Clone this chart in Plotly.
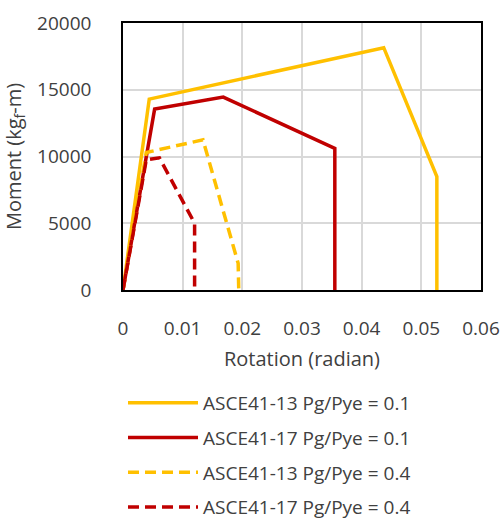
import plotly.graph_objects as go

# Data
names = ["ASCE41-13 Pg/Pye = 0.1", "ASCE41-17 Pg/Pye = 0.1",
         "ASCE41-13 Pg/Pye = 0.4", "ASCE41-17 Pg/Pye = 0.4"]
x_13_01 = [0, 0.0044, 0.0437, 0.0526, 0.0526]
y_13_01 = [0, 14300, 18150, 8500, 0]
x_17_01 = [0, 0.0053, 0.0168, 0.0355, 0.0355]
y_17_01 = [0, 13550, 14450, 10600, 0]
x_13_04 = [0, 0.0039, 0.0134, 0.0193, 0.0194]
y_13_04 = [0, 10300, 11250, 2000, 0]
x_17_04 = [0, 0.0039, 0.0061, 0.0120, 0.0120]
y_17_04 = [0, 9750, 9900, 5000, 0]

xs = [x_13_01, x_17_01, x_13_04, x_17_04]
ys = [y_13_01, y_17_01, y_13_04, y_17_04]
colors = ["#FFC000", "#C00000", "#FFC000", "#C00000"]
dashes = ["solid", "solid", "11px,6px", "11px,6px"]

FONT = "Open Sans"
fig = go.Figure()
for i in range(4):
    fig.add_trace(go.Scatter(x=xs[i], y=ys[i], mode="lines", name=names[i],
                             legendgroup=f"g{i}",
                             line=dict(color=colors[i], width=3.5, dash=dashes[i])))

fig.update_layout(
    width=500, height=519,
    margin=dict(l=123, r=19, t=23, b=229),
    paper_bgcolor="white", plot_bgcolor="white",
    font=dict(family=FONT, size=18, color="#404040"),
    showlegend=True,
    legend=dict(x=0.0, y=(519 - 384) / 519, xref="paper", yref="container",
                xanchor="left", yanchor="top",
                itemwidth=70, tracegroupgap=7,
                font=dict(size=19, color="#404040")),
    xaxis=dict(range=[0, 0.06], tickvals=[0, 0.01, 0.02, 0.03, 0.04, 0.05, 0.06],
               ticktext=["0", "0.01", "0.02", "0.03", "0.04", "0.05", "0.06"],
               showgrid=True, gridcolor="#D9D9D9", gridwidth=1.5,
               showline=True, linecolor="black", linewidth=1.5, mirror=True,
               zeroline=False, ticks="", ticklabelstandoff=20, automargin=False,
               tickfont=dict(size=19),
               title=dict(text="Rotation (radian)", standoff=12, font=dict(size=20))),
    yaxis=dict(range=[0, 20000], tickvals=[0, 5000, 10000, 15000, 20000],
               ticktext=["0", "5000", "10000", "15000", "20000"],
               showgrid=True, gridcolor="#D9D9D9", gridwidth=1.5,
               showline=True, linecolor="black", linewidth=1.5, mirror=True,
               zeroline=False, ticks="", ticklabelstandoff=26, automargin=False,
               tickfont=dict(size=19),
               title=dict(text="Moment (kg<sub>f</sub>-m)", standoff=10, font=dict(size=20))),
)

fig.write_html("out.html")
